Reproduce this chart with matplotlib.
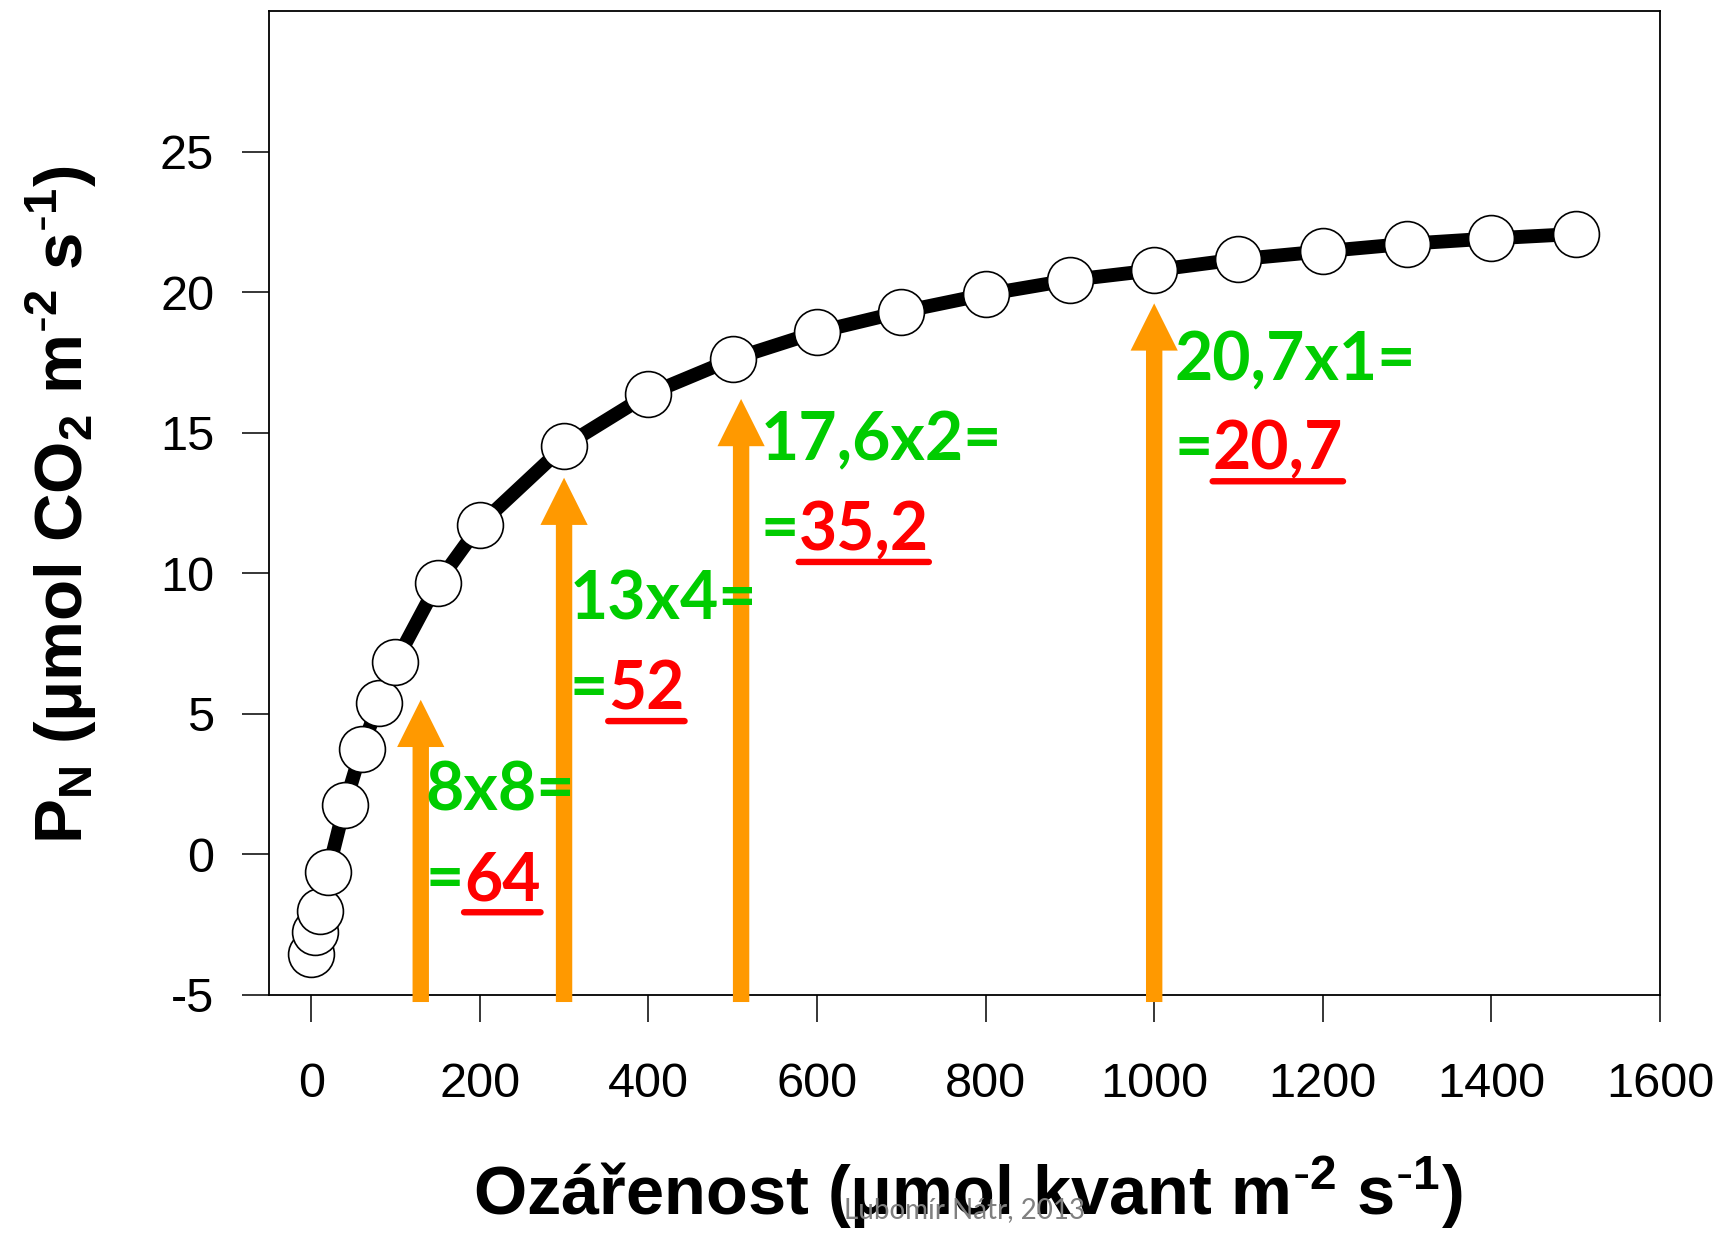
import matplotlib
matplotlib.use("Agg")
import matplotlib.pyplot as plt
from matplotlib.patches import FancyArrowPatch, ArrowStyle

# Light-response curve of net photosynthesis
irradiance = [0, 5, 10, 20, 40, 60, 80, 100, 150, 200, 300, 400, 500,
              600, 700, 800, 900, 1000, 1100, 1200, 1300, 1400, 1500]
net_photosynthesis = [-3.55, -2.76, -2.02, -0.62, 1.77, 3.75, 5.38, 6.84,
                      9.65, 11.72, 14.52, 16.37, 17.62, 18.58, 19.3, 19.92,
                      20.43, 20.78, 21.17, 21.45, 21.72, 21.91, 22.07]

x_ticks = [0, 200, 400, 600, 800, 1000, 1200, 1400, 1600]
y_ticks = [-5, 0, 5, 10, 15, 20, 25]

# Highlighted irradiance levels (arrows) and their products
arrow_x = [130, 300, 510, 1000]
arrow_tip = [5.5, 13.4, 16.2, 19.6]
arrow_base = -5.25
products = ["8x8=", "13x4=", "17,6x2=", "20,7x1="]
results = ["64", "52", "35,2", "20,7"]
label_x = [136, 307, 533, 1024]
label_y_top = [1.56, 8.35, 14.0, 16.85]
label_y_bottom = [-1.63, 5.17, 10.83, 13.7]

GREEN = "#00CC00"
RED = "#FF0000"
ORANGE = "#FF9900"

plt.rcParams["font.family"] = "Liberation Sans"
plt.rcParams["mathtext.fontset"] = "custom"
plt.rcParams["mathtext.default"] = "regular"
plt.rcParams["axes.unicode_minus"] = False

fig = plt.figure(figsize=(17.3, 12.36), dpi=100)
ax = fig.add_axes([269 / 1730, 241 / 1236, 1391 / 1730, 984 / 1236])

ax.plot(irradiance, net_photosynthesis, color="black", lw=10, zorder=2,
        solid_capstyle="round")
ax.plot(irradiance, net_photosynthesis, ls="none", marker="o", ms=33,
        mfc="white", mec="black", mew=1.2, zorder=3)

ax.set_xlim(-50, 1600)
ax.set_ylim(-5, 30)
ax.set_xticks(x_ticks)
ax.set_yticks(y_ticks)
ax.tick_params(axis="both", direction="out", length=19.5, width=1.1,
               labelsize=35, colors="black")
ax.tick_params(axis="x", pad=29)
ax.tick_params(axis="y", pad=20)
for side in ["left", "right", "top", "bottom"]:
    ax.spines[side].set_linewidth(1.3)

ax.set_xlabel(r"Ozářenost (μmol kvant m$^{\text{-}2}$ s$^{\text{-}1}$)",
              fontsize=49.3, fontweight="bold", va="baseline")
ax.xaxis.set_label_coords(0.5023, (995 - 1215) / 984)
ax.set_ylabel(r"P$_{N}$ (μmol CO$_{2}$ m$^{\text{-}2}$ s$^{\text{-}1}$)",
              fontsize=48.5, fontweight="bold", va="baseline", ha="center")
ax.yaxis.set_label_coords((82 - 268.3) / 1391, 0.4984)

# Orange arrows from the axis up to the curve
for x, tip in zip(arrow_x, arrow_tip):
    arr = FancyArrowPatch((x, arrow_base), (x, tip),
                          arrowstyle=ArrowStyle.Simple(head_length=34,
                                                       head_width=34,
                                                       tail_width=11.8),
                          mutation_scale=1, color=ORANGE, lw=0,
                          shrinkA=0, shrinkB=0, clip_on=False, zorder=4)
    ax.add_patch(arr)

text_kw = dict(fontsize=47.5, fontweight="bold", family="Lato", zorder=5)
for x, y1, y2, prod, res in zip(label_x, label_y_top, label_y_bottom,
                                products, results):
    ax.text(x, y1, prod, color=GREEN, ha="left", va="baseline", **text_kw)
    eq = ax.text(x, y2, "=", color=GREEN, ha="left", va="baseline", **text_kw)
    num = ax.annotate(res, xy=(1, 0), xycoords=eq, ha="left", va="bottom",
                      color=RED, **text_kw)
    ax.annotate("", xy=(0, 0), xycoords=num, xytext=(1, 0), textcoords=num,
                arrowprops=dict(arrowstyle="-", color=RED, lw=4.6,
                                shrinkA=0, shrinkB=0), zorder=5)

fig.text(964 / 1730, 1 - 1218 / 1236, "Lubomír Nátr, 2013", ha="center",
         va="baseline", color="#808080", fontsize=20, family="Lato")

fig.savefig("out.png", dpi=100, facecolor="white")
